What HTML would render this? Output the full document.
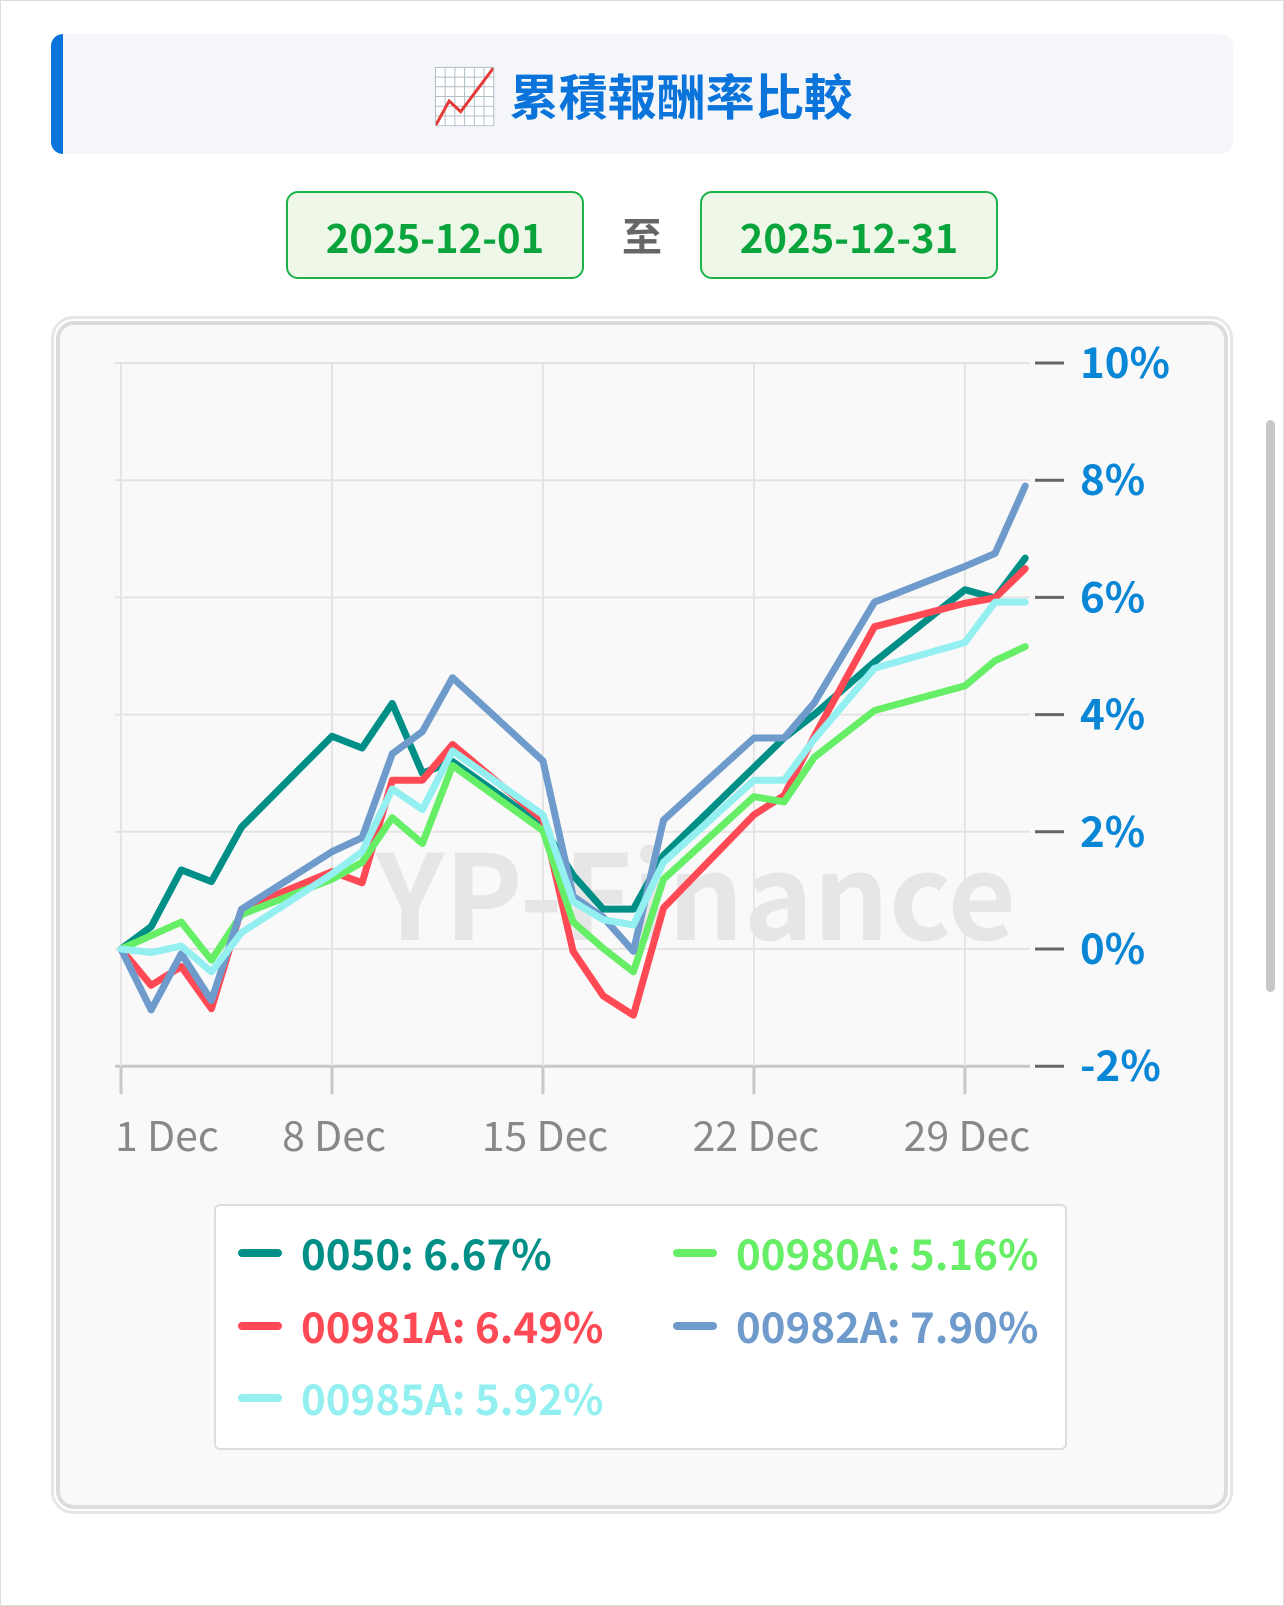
<!DOCTYPE html>
<html><head><meta charset="utf-8">
<style>
html,body{margin:0;padding:0;background:#fff;width:1284px;height:1606px;overflow:hidden;font-family:"Noto Sans CJK TC","Liberation Sans",sans-serif;}
.abs{position:absolute;}
</style></head>
<body>
<div class="abs" style="left:0;top:0;width:1282px;height:1604px;border:1px solid #ddd;"></div>
<div class="abs" style="left:51px;top:34px;width:1182px;height:120px;background:#f4f6fa;border-radius:12px;overflow:hidden;">
  <div class="abs" style="left:0;top:0;width:12px;height:120px;background:#0a74da;"></div>
  <div class="abs" style="left:0;top:-2px;width:1182px;height:120px;line-height:120px;text-align:center;font-weight:bold;font-size:49px;color:#0a74da;"><span style="font-size:54px">📈</span> 累積報酬率比較</div>
</div>
<div class="abs" style="left:286px;top:191px;width:298px;height:88px;box-sizing:border-box;border:2px solid #1bb24a;border-radius:12px;background:#eef7e8;color:#0aa43c;font-weight:bold;font-size:40px;line-height:86px;text-align:center;">2025-12-01</div>
<div class="abs" style="left:612px;top:191px;width:60px;height:88px;line-height:86px;text-align:center;font-weight:bold;font-size:40px;color:#666;">至</div>
<div class="abs" style="left:700px;top:191px;width:298px;height:88px;box-sizing:border-box;border:2px solid #1bb24a;border-radius:12px;background:#eef7e8;color:#0aa43c;font-weight:bold;font-size:40px;line-height:86px;text-align:center;">2025-12-31</div>
<div class="abs" style="left:1266px;top:420px;width:9px;height:572px;background:#c8c8c8;border-radius:5px;"></div>
<div class="abs" style="left:51px;top:316px;width:1182px;height:1198px;box-sizing:border-box;border:3px solid #e6e6e6;border-radius:22px;background:#fff;"></div>
<div class="abs" style="left:56px;top:321px;width:1172px;height:1188px;box-sizing:border-box;border:4px solid #dcdcdc;border-radius:18px;background:#f9f9f9;"></div>
<svg class="abs" style="left:0;top:0" width="1284" height="1606">
 <text x="696" y="940" text-anchor="middle" font-family="Noto Sans CJK TC" font-weight="bold" font-size="118" fill="#e6e6e6">YP-Finance</text>
 <g id="grid"></g><g id="lines"></g>
</svg>
<div class="abs" style="left:214px;top:1204px;width:853px;height:246px;box-sizing:border-box;border:2px solid #ddd;border-radius:6px;background:#fff;"></div>
<div id="leg"></div>
<script>
const days=[1,2,3,4,5,8,9,10,11,12,15,16,17,18,19,22,23,24,26,29,30,31];
const names=["0050","00981A","00980A","00982A","00985A"];
const colors=["#008f86","#ff4a55","#66ee66","#6e9bcb","#93eff0"];
const finals=["6.67%","6.49%","5.16%","7.90%","5.92%"];
const s0050=[0,0.38,1.35,1.15,2.08,3.63,3.43,4.19,3.0,3.2,2.1,1.26,0.68,0.68,1.6,3.1,3.6,4.0,4.9,6.13,5.99,6.67];
const s00981A=[0,-0.62,-0.3,-1.02,0.68,1.32,1.13,2.88,2.88,3.49,2.2,-0.04,-0.8,-1.13,0.7,2.29,2.62,3.63,5.5,5.9,5.99,6.49];
const s00980A=[0,0.23,0.46,-0.19,0.59,1.19,1.48,2.24,1.8,3.13,2.02,0.46,0.01,-0.39,1.19,2.6,2.51,3.27,4.07,4.49,4.92,5.16];
const s00982A=[0,-1.04,-0.08,-0.88,0.68,1.66,1.9,3.33,3.71,4.63,3.21,0.9,0.54,-0.04,2.2,3.6,3.6,4.2,5.92,6.53,6.75,7.90];
const s00985A=[0,-0.06,0.05,-0.39,0.28,1.28,1.66,2.73,2.38,3.38,2.29,0.81,0.5,0.41,1.48,2.88,2.88,3.58,4.79,5.23,5.92,5.92];
const series=[s0050,s00981A,s00980A,s00982A,s00985A];
const yTicks=[10,8,6,4,2,0,-2];
const xTickDays=[1,8,15,22,29];
const xTickLabels=["1 Dec","8 Dec","15 Dec","22 Dec","29 Dec"];
const X=d=>121+(d-1)*30.14;
const Y=v=>949-v*58.6;
const NS="http://www.w3.org/2000/svg";
const FF="Noto Sans CJK TC";
const grid=document.getElementById('grid'),lines=document.getElementById('lines');
function mk(tag,attrs,parent){const e=document.createElementNS(NS,tag);for(const k in attrs)e.setAttribute(k,attrs[k]);parent.appendChild(e);return e;}
yTicks.forEach(v=>{
 const l=mk('line',{x1:115,x2:1030,y1:Y(v),y2:Y(v),stroke:v===-2?'#c8c8c8':'#e4e4e4','stroke-width':v===-2?3:2},grid);
 
 
 const t=mk('line',{x1:1035,x2:1064,y1:Y(v),y2:Y(v),stroke:'#666','stroke-width':3},grid);
 
 
 const tx=mk('text',{x:1080,y:Y(v)+15,'font-size':42,'font-weight':'bold',fill:'#0a86d6','font-family':FF},grid);
 tx.textContent=v+'%';
 
 
});
xTickDays.forEach((d,i)=>{
 const l=mk('line',{x1:X(d),x2:X(d),y1:Y(10),y2:Y(-2),stroke:'#e4e4e4','stroke-width':2},grid);
 
 
 const t=mk('line',{x1:X(d),x2:X(d),y1:Y(-2),y2:Y(-2)+28,stroke:'#c8c8c8','stroke-width':3},grid);
 
 
 const tx=mk('text',{x:i===0?X(d)-6:X(d)+2,y:1151,'font-size':41,fill:'#888','font-family':FF,'text-anchor':i===0?'start':'middle'},grid);
 tx.textContent=xTickLabels[i];
 
 
});
series.forEach((s,i)=>{
 const p=mk('polyline',{points:s.map((v,j)=>X(days[j])+','+Y(v)).join(' '),fill:'none',stroke:colors[i],'stroke-width':7,'stroke-linejoin':'round','stroke-linecap':'round'},lines);
 
 
});
const leg=document.getElementById('leg');
const pos=[[238,1253],[673,1253],[238,1326],[673,1326],[238,1398]];
const order=[0,2,1,3,4];
order.forEach((si,k)=>{
 const [x,y]=pos[k];
 const e=document.createElement('div');
 e.className='abs';
 e.style.cssText=`left:${x}px;top:${y-28}px;height:56px;display:flex;align-items:center;white-space:nowrap;`;
 e.innerHTML=`<span style="display:inline-block;width:44px;height:8px;border-radius:4px;background:${colors[si]};margin-right:19px"></span><span style="font-weight:bold;font-size:42px;line-height:56px;color:${colors[si]}">${names[si]}: ${finals[si]}</span>`;
 
 
 leg.appendChild(e);
});
</script>
</body></html>
